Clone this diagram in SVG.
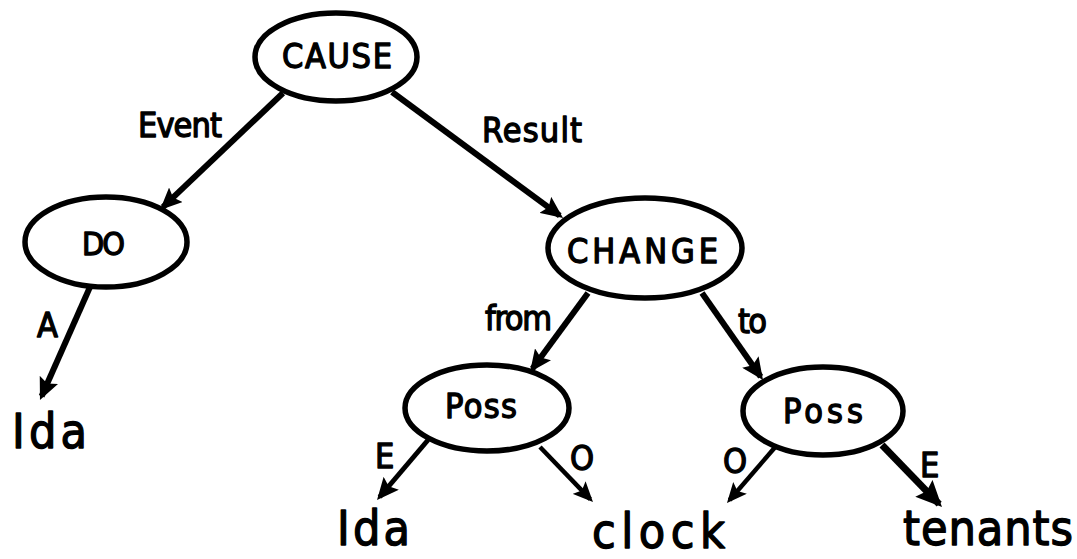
<svg xmlns="http://www.w3.org/2000/svg" width="1077" height="559" viewBox="0 0 1077 559">
<defs>
<style>
.node{fill:#fff;stroke:#000;stroke-width:5.5}
.edge{fill:none;stroke:#000;stroke-width:6}
.t{font-family:"DejaVu Sans Condensed","DejaVu Sans","Liberation Sans",sans-serif;fill:#000;stroke:#000;stroke-width:1.3;stroke-linejoin:round}
.lbl{font-size:34px}
.big{font-size:48px}
</style>
<marker id="ah" markerUnits="userSpaceOnUse" viewBox="0 0 22 20" markerWidth="22" markerHeight="20" refX="18" refY="10" orient="auto">
<path d="M0,0 L22,10 L0,20 L4,10 z" fill="#000"/>
</marker>
<marker id="ahs" markerUnits="userSpaceOnUse" viewBox="0 0 20 18" markerWidth="20" markerHeight="18" refX="16" refY="9" orient="auto">
<path d="M0,0 L20,9 L0,18 L4,9 z" fill="#000"/>
</marker>
<marker id="ahb" markerUnits="userSpaceOnUse" viewBox="0 0 26 24" markerWidth="26" markerHeight="24" refX="22" refY="12" orient="auto">
<path d="M0,0 L26,12 L0,24 L4,12 z" fill="#000"/>
</marker>
</defs>
<rect width="1077" height="559" fill="#fff"/>
<g id="connectors">
<line class="edge" x1="283" y1="93" x2="162.9" y2="207.2" marker-end="url(#ah)"/>
<line class="edge" x1="392" y1="92" x2="559.8" y2="215.6" marker-end="url(#ah)"/>
<line class="edge" x1="90" y1="287" x2="41.6" y2="396.3" marker-end="url(#ah)"/>
<line class="edge" x1="588" y1="293" x2="532.4" y2="368.8" marker-end="url(#ah)"/>
<line class="edge" x1="702" y1="293" x2="760.7" y2="376.7" marker-end="url(#ah)"/>
<line class="edge" x1="428" y1="440" x2="379.6" y2="497" marker-end="url(#ah)" style="stroke-width:5"/>
<line class="edge" x1="540" y1="447" x2="590.2" y2="499.1" marker-end="url(#ahs)" style="stroke-width:4.5"/>
<line class="edge" x1="777" y1="445" x2="729.6" y2="500" marker-end="url(#ahs)" style="stroke-width:4.5"/>
<line class="edge" x1="882" y1="445" x2="939.2" y2="504.1" marker-end="url(#ahb)" style="stroke-width:7"/>
<text class="t lbl" x="138" y="137" textLength="84">Event</text>
<text class="t lbl" x="482" y="142" textLength="100">Result</text>
<text class="t lbl" x="37" y="337" textLength="21">A</text>
<text class="t lbl" x="485" y="330" textLength="67">from</text>
<text class="t lbl" x="738" y="333" textLength="29">to</text>
<text class="t lbl" x="375" y="468" textLength="17">E</text>
<text class="t lbl" x="570" y="470" textLength="22">O</text>
<text class="t lbl" x="723" y="473" textLength="22">O</text>
<text class="t lbl" x="920" y="477" textLength="18">E</text>
</g>
<g id="cause">
<ellipse class="node" cx="336" cy="57" rx="81" ry="44"/>
<text class="t lbl" x="282" y="68" textLength="110">CAUSE</text>
</g>
<g id="do">
<ellipse class="node" cx="106" cy="242" rx="81" ry="45"/>
<text class="t lbl" x="82" y="255" textLength="43" style="font-size:32px">DO</text>
</g>
<g id="change">
<ellipse class="node" cx="645" cy="248" rx="97" ry="50"/>
<text class="t lbl" x="567" y="263" textLength="151">CHANGE</text>
</g>
<g id="poss-from">
<ellipse class="node" cx="487" cy="408" rx="82" ry="43"/>
<text class="t lbl" x="445" y="418" textLength="72">Poss</text>
</g>
<g id="poss-to">
<ellipse class="node" cx="823" cy="411" rx="80" ry="44"/>
<text class="t lbl" x="783" y="423" textLength="80">Poss</text>
</g>
<g id="ida-a">
<text class="t big" x="12" y="448" textLength="75">Ida</text>
</g>
<g id="ida-e">
<text class="t big" x="337" y="545" textLength="73">Ida</text>
</g>
<g id="clock">
<text class="t big" x="592" y="548" textLength="133">clock</text>
</g>
<g id="tenants">
<text class="t big" x="903" y="545" textLength="170">tenants</text>
</g>
</svg>
